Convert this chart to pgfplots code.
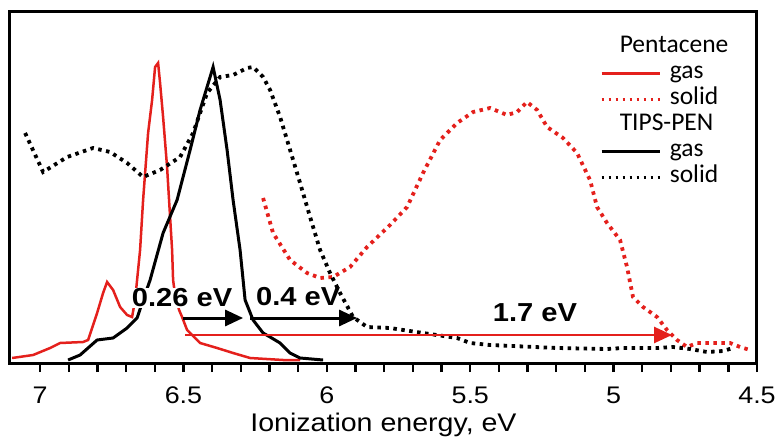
\documentclass[border=0pt]{standalone}
\usepackage{fontspec}
\setmainfont{Liberation Sans}[FakeStretch=1.12]
\newfontfamily\legfont{Carlito}
\usepackage{pgfplots}
\pgfplotsset{compat=1.18}
\usetikzlibrary{arrows.meta}
\definecolor{pred}{RGB}{228,32,28}

\begin{document}
\begin{tikzpicture}
\begin{axis}[
  scale only axis,
  width=747pt, height=352pt,
  x dir=reverse,
  xmin=4.5, xmax=7.105, ymin=0, ymax=352,
  xtick={4.5,5,5.5,6,6.5,7},
  minor x tick num=4,
  xtick pos=left, ytick=\empty,
  tick align=outside,
  major tick length=9pt, minor tick length=9pt,
  tick style={black, line width=2.4pt},
  axis line style={line width=3pt},
  /pgf/number format/assume math mode=true,
  ticklabel style={font=\fontsize{24}{28}\selectfont},
  xticklabel style={yshift=-11pt},
  xlabel={Ionization energy, eV},
  xlabel style={font=\fontsize{25.5}{29}\selectfont, yshift=-3pt},
  legend style={at={(0.79,0.935)}, anchor=north west, draw=none, fill=none,
    inner sep=0pt, row sep=1pt, column sep=9pt,
    font=\legfont\fontsize{25.5}{30}\selectfont,
    nodes={inner sep=0pt, text height=18pt, text depth=7pt}},
  legend cell align=left,
  legend image code/.code={\draw[#1] (0pt,-1pt) -- (58pt,-1pt);},
  dotted curve/.style={line width=3.8pt, dash pattern=on 3.5pt off 4.5pt},
]
% Pentacene gas
\addplot[pred, line width=2.5pt, forget plot] table {
x y
7.0976 5
7.0244 8
6.9651 15
6.9303 20
6.8501 21
6.8326 23
6.8012 50
6.7803 70
6.7664 81
6.7454 73
6.7210 56
6.6966 48
6.6792 46
6.6687 63
6.6618 83
6.6513 113
6.6408 163
6.6234 230
6.6094 263
6.5990 296
6.5885 300
6.5816 280
6.5711 246
6.5572 196
6.5467 146
6.5397 113
6.5362 83
6.5293 68
6.5153 53
6.5049 46
6.4874 33
6.4421 20
6.3828 15
6.3270 10
6.2677 5
6.1526 3
6.0934 3
};
% Pentacene solid
\addplot[pred, dotted curve, forget plot] table {
x y
6.2224 165
6.1876 130
6.1282 103
6.0690 90
6.0236 85
5.9783 86
5.9190 96
5.8598 116
5.7796 138
5.7203 156
5.6645 190
5.6052 223
5.5459 240
5.4901 251
5.4309 255
5.3716 248
5.3367 251
5.3019 261
5.2667 253
5.2321 236
5.1763 225
5.1275 210
5.0822 183
5.0578 156
5.0229 140
4.9776 123
4.9532 96
4.9323 66
4.8974 56
4.8485 46
4.8137 33
4.7788 23
4.7439 16
4.7090 20
4.6532 20
4.5940 20
4.5591 16
4.5242 13
};
% TIPS-PEN gas
\addplot[black, line width=3pt, forget plot] table {
x y
6.9024 3
6.8605 8
6.8012 23
6.7454 25
6.6966 35
6.6618 45
6.6408 63
6.6164 83
6.5711 130
6.5223 163
6.4769 213
6.4421 253
6.4072 286
6.3967 296
6.3723 263
6.3479 213
6.3270 163
6.3026 113
6.2851 63
6.2573 43
6.2224 30
6.1980 26
6.1631 20
6.1282 10
6.0934 5
6.0132 3
};
% TIPS-PEN solid
\addplot[black, dotted curve, forget plot] table {
x y
7.0523 230
6.9895 191
6.9058 206
6.8152 215
6.7559 211
6.6966 200
6.6408 186
6.5816 193
6.5118 206
6.4665 230
6.4177 270
6.3723 286
6.3270 288
6.2782 295
6.2573 296
6.2224 286
6.1980 273
6.1631 246
6.1282 213
6.0934 180
6.0585 146
6.0236 113
5.9888 90
5.9539 70
5.9086 46
5.8598 36
5.7796 35
5.6645 30
5.5459 25
5.5006 20
5.4309 18
5.1972 15
5.0229 14
4.9671 15
4.8485 15
4.7927 16
4.7334 14
4.6741 11
4.6184 12
4.5835 15
};
\addlegendimage{empty legend}
\addlegendentry{\hspace*{-50pt}Pentacene}
\addlegendimage{pred, line width=2.5pt}
\addlegendentry{gas}
\addlegendimage{pred, line width=2.2pt, dash pattern=on 2pt off 5pt}
\addlegendentry{solid}
\addlegendimage{empty legend}
\addlegendentry{\hspace*{-50pt}TIPS-PEN}
\addlegendimage{black, line width=2.5pt}
\addlegendentry{gas}
\addlegendimage{black, line width=2.2pt, dash pattern=on 2pt off 5pt}
\addlegendentry{solid}
% annotations
\draw[black, line width=3pt, -{Triangle[length=18pt,width=16pt]}] (axis cs:6.5013,45) -- (axis cs:6.2921,45);
\draw[black, line width=3pt, -{Triangle[length=18pt,width=16pt]}] (axis cs:6.2677,45) -- (axis cs:5.8946,45);
\draw[pred, line width=2.5pt, -{Triangle[length=18pt,width=16pt]}] (axis cs:6.4944,28) -- (axis cs:4.7962,28);
\node[fill=white, inner sep=1pt, font=\bfseries\fontsize{26}{30}\selectfont] at (axis cs:6.505,65) {0.26 eV};
\node[inner sep=1pt, font=\bfseries\fontsize{26}{30}\selectfont] at (axis cs:6.100,66) {0.4 eV};
\node[inner sep=1pt, font=\bfseries\fontsize{26}{30}\selectfont] at (axis cs:5.274,50) {1.7 eV};
\end{axis}
\pgfresetboundingbox
\path (current axis.south west) ++(-10pt,-77pt) rectangle ++(777pt,440pt);
\end{tikzpicture}
\end{document}
